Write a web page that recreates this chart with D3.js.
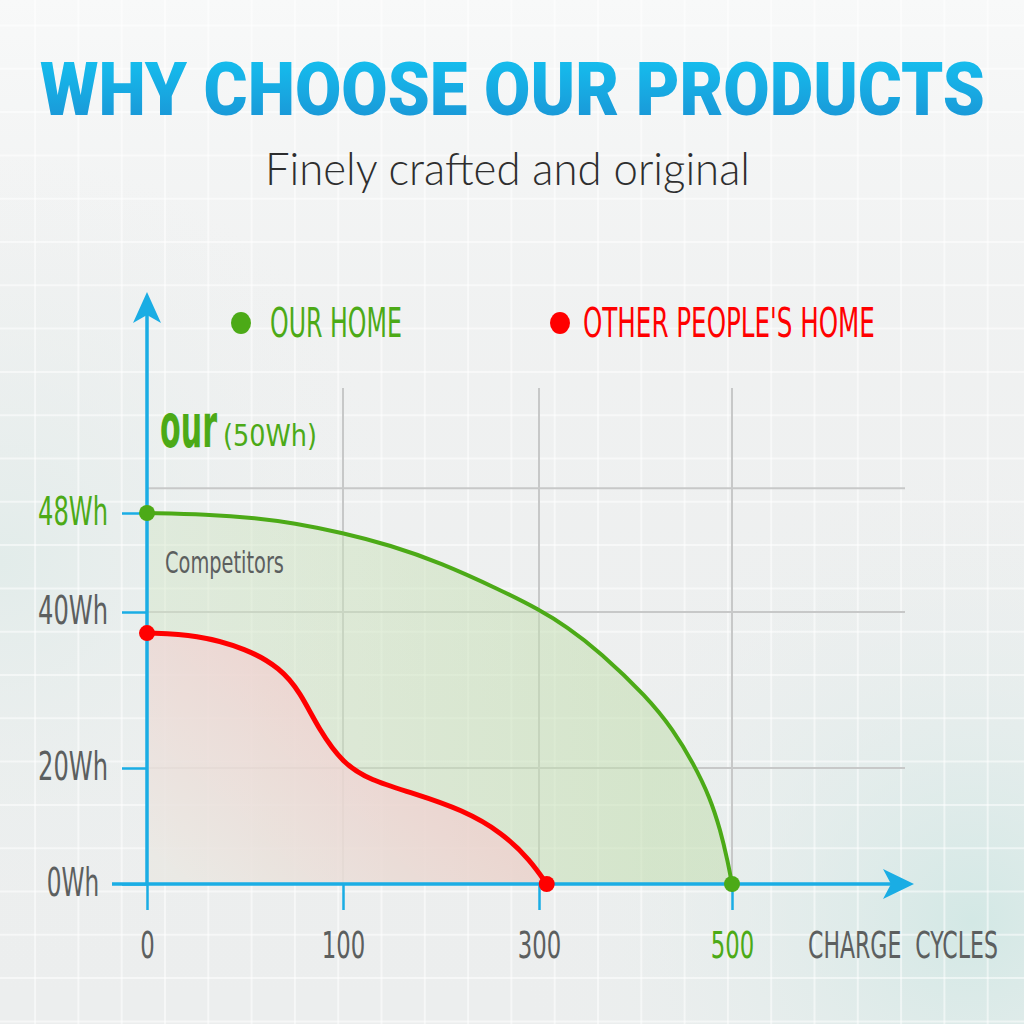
<!DOCTYPE html>
<html>
<head>
<meta charset="utf-8">
<script src="https://cdn.jsdelivr.net/npm/d3@7"></script>
<style>
  body { margin: 0; background: #eef0f0; }
  svg { display: block; }
</style>
</head>
<body>
<div id="chart"></div>
<script>
// ---- data ----
const xTicks = [0, 100, 300, 500];
const xTickLabels = ['0', '100', '300', '500'];
const yTicks = [0, 20, 40, 48];
const yTickLabels = ['0Wh', '20Wh', '40Wh', '48Wh'];
const gridX = [100, 300, 500];
const gridY = [20, 40, 50];

// capacity (Wh) vs charge cycles
const ourHome = [
  [0, 48], [30.6, 47.9], [56, 47.6], [74.5, 47.2], [100, 46.4],
  [148, 45.4], [199, 44.0], [260, 41.8], [300, 40.2], [329, 38.1],
  [363, 34.9], [412, 29.1], [439, 24.9], [460, 20.6], [477, 15],
  [488, 9.3], [496, 3.6], [500, 0]
];
const otherHome = [
  [0, 37.3], [25.5, 37.1], [51, 35.3], [68, 32.8], [78, 29.8],
  [88, 24.8], [100, 20.6], [127.6, 17.9], [171, 15.7], [222, 12.8],
  [263, 8.8], [291, 4.1], [308, 0]
];
const legendItems = ['OUR HOME', "OTHER PEOPLE'S HOME"];

const GREEN = '#4caa17';
const RED = '#ff0000';
const BLUE = '#1aade4';
const GREY_TEXT = '#5c5f5f';
const NARROW = "'Liberation Sans Narrow', 'DejaVu Sans Condensed', sans-serif";

const width = 1024;
const height = 1024;

const svg = d3.select('#chart')
  .append('svg')
  .attr('width', width)
  .attr('height', height);

const defs = svg.append('defs');

// squeeze a text horizontally so it spans w pixels (the source font is very narrow)
function squeeze(sel, w, dx) {
  sel.each(function(d, i) {
    const target = typeof w === 'function' ? w(d, i) : w;
    const n = this.getComputedTextLength();
    const s = n > 0 ? target / n : 1;
    d3.select(this)
      .attr('transform', `translate(${dx || 0},0) scale(${s},1)`);
  });
}

// piecewise scales: the axis is not evenly spaced in value
const x = d3.scaleLinear()
  .domain(xTicks)
  .range([147, 343, 539, 732]);
const y = d3.scaleLinear()
  .domain(yTicks)
  .range([884, 768, 612, 513]);

// ---- background ----
const bgGrad = defs.append('radialGradient')
  .attr('id', 'bgTeal')
  .attr('cx', 0.95).attr('cy', 0.9).attr('r', 0.45);
bgGrad.append('stop').attr('offset', 0).attr('stop-color', '#d3e8e5');
bgGrad.append('stop').attr('offset', 1).attr('stop-color', '#eef0f0').attr('stop-opacity', 0);

const bgLeft = defs.append('radialGradient')
  .attr('id', 'bgLeft')
  .attr('cx', 0).attr('cy', 0.55).attr('r', 0.4);
bgLeft.append('stop').attr('offset', 0).attr('stop-color', '#e2ecea');
bgLeft.append('stop').attr('offset', 1).attr('stop-color', '#eef0f0').attr('stop-opacity', 0);

const bgTop = defs.append('linearGradient')
  .attr('id', 'bgTop')
  .attr('x1', 0).attr('y1', 0).attr('x2', 0).attr('y2', 1);
bgTop.append('stop').attr('offset', 0).attr('stop-color', '#f8f9f9');
bgTop.append('stop').attr('offset', 0.3).attr('stop-color', '#f3f4f4').attr('stop-opacity', 0.6);
bgTop.append('stop').attr('offset', 1).attr('stop-color', '#eef0f0').attr('stop-opacity', 0);

svg.append('rect').attr('width', width).attr('height', height).attr('fill', '#eceeee');
svg.append('rect').attr('width', width).attr('height', height).attr('fill', 'url(#bgTop)');
svg.append('rect').attr('width', width).attr('height', height).attr('fill', 'url(#bgLeft)');
svg.append('rect').attr('width', width).attr('height', height).attr('fill', 'url(#bgTeal)');

// decorative white squares behind everything
const cell = 43.3;
const bgGrid = svg.append('g')
  .attr('stroke', '#ffffff')
  .attr('stroke-opacity', 0.5)
  .attr('stroke-width', 2);
bgGrid.selectAll('line.v')
  .data(d3.range(-3, 21))
  .enter().append('line')
    .attr('class', 'v')
    .attr('x1', (d) => 165 + d * cell).attr('x2', (d) => 165 + d * cell)
    .attr('y1', 0).attr('y2', height);
bgGrid.selectAll('line.h')
  .data(d3.range(-16, 9))
  .enter().append('line')
    .attr('class', 'h')
    .attr('y1', (d) => 675 + d * cell).attr('y2', (d) => 675 + d * cell)
    .attr('x1', 0).attr('x2', width);

// ---- title ----
const titleGrad = defs.append('linearGradient')
  .attr('id', 'titleGrad')
  .attr('x1', 0).attr('y1', 0).attr('x2', 0).attr('y2', 1);
titleGrad.append('stop').attr('offset', 0).attr('stop-color', '#14c6f3');
titleGrad.append('stop').attr('offset', 1).attr('stop-color', '#1b8fd2');

svg.append('g')
  .attr('transform', 'translate(40,115)')
  .append('text')
    .attr('font-family', "Roboto, 'Open Sans', sans-serif")
    .attr('font-weight', 900)
    .attr('font-size', 74)
    .attr('fill', 'url(#titleGrad)')
    .text('WHY CHOOSE OUR PRODUCTS')
    .call(squeeze, 945);

svg.append('g')
  .attr('transform', 'translate(265,185)')
  .append('text')
    .attr('font-family', 'Lato, sans-serif')
    .attr('font-weight', 300)
    .attr('font-size', 45)
    .attr('fill', '#2e2e2e')
    .text('Finely crafted and original')
    .call(squeeze, 485);

// ---- grid ----
const grid = svg.append('g')
  .attr('stroke', '#c7c8c8')
  .attr('stroke-width', 2);
grid.selectAll('line.gx')
  .data(gridX)
  .enter().append('line')
    .attr('x1', (d) => x(d)).attr('x2', (d) => x(d))
    .attr('y1', 388).attr('y2', y(0));
grid.selectAll('line.gy')
  .data(gridY)
  .enter().append('line')
    .attr('y1', (d) => y(d)).attr('y2', (d) => y(d))
    .attr('x1', x(0)).attr('x2', 905);

// ---- areas ----
const greenFill = defs.append('linearGradient')
  .attr('id', 'greenFill')
  .attr('gradientUnits', 'userSpaceOnUse')
  .attr('x1', 160).attr('y1', 700).attr('x2', 650).attr('y2', 700);
greenFill.append('stop').attr('offset', 0).attr('stop-color', '#86c25a').attr('stop-opacity', 0.13);
greenFill.append('stop').attr('offset', 1).attr('stop-color', '#86c25a').attr('stop-opacity', 0.24);

const redFill = defs.append('linearGradient')
  .attr('id', 'redFill')
  .attr('gradientUnits', 'userSpaceOnUse')
  .attr('x1', 175).attr('y1', 875).attr('x2', 320).attr('y2', 700);
redFill.append('stop').attr('offset', 0).attr('stop-color', '#ff6060').attr('stop-opacity', 0.02);
redFill.append('stop').attr('offset', 1).attr('stop-color', '#ff6060').attr('stop-opacity', 0.15);

const curve = d3.curveBasis;
const area = d3.area()
  .x((d) => x(d[0]))
  .y0(y(0))
  .y1((d) => y(d[1]))
  .curve(curve);
const line = d3.line()
  .x((d) => x(d[0]))
  .y((d) => y(d[1]))
  .curve(curve);

// the green area sits under the red one
svg.append('path').datum(ourHome).attr('d', area).attr('fill', '#f0f2ef').attr('fill-opacity', 0.4);
svg.append('path').datum(ourHome).attr('d', area).attr('fill', 'url(#greenFill)');
svg.append('path').datum(otherHome).attr('d', area).attr('fill', '#eeeded').attr('fill-opacity', 0.7);
svg.append('path').datum(otherHome).attr('d', area).attr('fill', 'url(#redFill)');

// ---- axes ----
const xAxis = d3.axisBottom(x)
  .tickValues(xTicks)
  .tickSize(26)
  .tickFormat((d, i) => xTickLabels[i]);
const gx = svg.append('g')
  .attr('transform', `translate(0,${y(0)})`)
  .call(xAxis);
gx.select('.domain').remove();
gx.selectAll('.tick line').attr('stroke', BLUE).attr('stroke-width', 2.5);
gx.selectAll('.tick text')
  .attr('y', 74)
  .attr('dy', 0)
  .attr('font-family', NARROW)
  .attr('font-size', 38)
  .attr('fill', (d) => d === 500 ? GREEN : GREY_TEXT)
  .call(squeeze, (d, i) => xTickLabels[i].length * 14.5);

const yAxis = d3.axisLeft(y)
  .tickValues(yTicks)
  .tickSize(25)
  .tickFormat((d, i) => yTickLabels[i]);
const gy = svg.append('g')
  .attr('transform', `translate(${x(0)},0)`)
  .call(yAxis);
gy.select('.domain').remove();
gy.selectAll('.tick line').attr('stroke', BLUE).attr('stroke-width', 2.5);
gy.selectAll('.tick text')
  .attr('x', 0)
  .attr('dy', '0.3em')
  .attr('text-anchor', 'middle')
  .attr('font-family', NARROW)
  .attr('font-size', 39)
  .attr('fill', (d) => d === 48 ? GREEN : GREY_TEXT)
  .call(squeeze, (d, i) => yTickLabels[i].length * 17.5, -74);

// axis lines with arrow heads
svg.append('line')
  .attr('x1', 112).attr('x2', 900)
  .attr('y1', y(0)).attr('y2', y(0))
  .attr('stroke', BLUE).attr('stroke-width', 3.5);
svg.append('line')
  .attr('x1', x(0)).attr('x2', x(0))
  .attr('y1', y(0)).attr('y2', 305)
  .attr('stroke', BLUE).attr('stroke-width', 3.5);
svg.append('path')
  .attr('d', `M914,${y(0)} L883,${y(0) - 15} L891,${y(0)} L883,${y(0) + 15} Z`)
  .attr('fill', BLUE);
svg.append('path')
  .attr('d', `M${x(0)},292 L${x(0) + 14},323 L${x(0)},315 L${x(0) - 14},323 Z`)
  .attr('fill', BLUE);

svg.append('g')
  .attr('transform', 'translate(808,958)')
  .append('text')
    .attr('font-family', NARROW)
    .attr('font-size', 38)
    .attr('fill', GREY_TEXT)
    .attr('xml:space', 'preserve')
    .text('CHARGE  CYCLES')
    .call(squeeze, 190);

// ---- curves ----
svg.append('path').datum(ourHome)
  .attr('d', line)
  .attr('fill', 'none')
  .attr('stroke', GREEN)
  .attr('stroke-width', 4);
svg.append('path').datum(otherHome)
  .attr('d', line)
  .attr('fill', 'none')
  .attr('stroke', RED)
  .attr('stroke-width', 5);

const ends = [
  { p: ourHome[0], c: GREEN }, { p: ourHome[ourHome.length - 1], c: GREEN },
  { p: otherHome[0], c: RED }, { p: otherHome[otherHome.length - 1], c: RED }
];
svg.selectAll('circle.end')
  .data(ends)
  .enter().append('circle')
    .attr('class', 'end')
    .attr('cx', (d) => x(d.p[0]))
    .attr('cy', (d) => y(d.p[1]))
    .attr('r', 8)
    .attr('fill', (d) => d.c);

// ---- legend ----
const legendX = [241, 560];
const legendW = [132, 292];
const legend = svg.selectAll('g.legend')
  .data(legendItems)
  .enter().append('g')
    .attr('class', 'legend')
    .attr('transform', (d, i) => `translate(${legendX[i]},323)`);
legend.append('ellipse')
  .attr('rx', 10).attr('ry', 11)
  .attr('fill', (d, i) => i === 0 ? GREEN : RED);
legend.append('g')
  .attr('transform', (d, i) => `translate(${i === 0 ? 29 : 23},14)`)
  .append('text')
    .attr('font-family', NARROW)
    .attr('font-size', 41)
    .attr('fill', (d, i) => i === 0 ? GREEN : RED)
    .text((d) => d)
    .call(squeeze, (d, i) => legendW[i]);

// ---- annotations ----
svg.append('g')
  .attr('transform', 'translate(160,447)')
  .append('text')
    .attr('font-family', NARROW)
    .attr('font-weight', 'bold')
    .attr('font-size', 60)
    .attr('fill', GREEN)
    .text('our')
    .call(squeeze, 57);
svg.append('g')
  .attr('transform', 'translate(223,446)')
  .append('text')
    .attr('font-family', NARROW)
    .attr('font-size', 31)
    .attr('fill', GREEN)
    .text('(50Wh)')
    .call(squeeze, 94);

svg.append('g')
  .attr('transform', 'translate(165,573)')
  .append('text')
    .attr('font-family', NARROW)
    .attr('font-size', 31)
    .attr('fill', GREY_TEXT)
    .text('Competitors')
    .call(squeeze, 119);
</script>
</body>
</html>
